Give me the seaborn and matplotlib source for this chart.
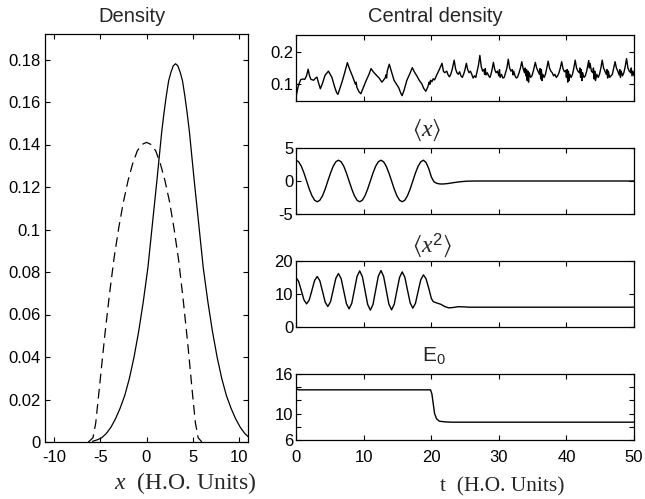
import matplotlib
matplotlib.use("Agg")
import matplotlib.pyplot as plt
import seaborn as sns

# ---------------- data ----------------
# Left panel: density profiles
x_solid = [-5.85, -5.35, -4.85, -4.35, -3.85, -3.35, -2.85, -2.35, -1.85, -1.35,
           -0.85, -0.35, 0.15, 0.65, 1.15, 1.65, 1.9, 2.15, 2.4, 2.65,
           2.9, 3.15, 3.4, 3.65, 3.9, 4.15, 4.4, 4.65, 5.15, 5.65,
           6.15, 6.65, 7.15, 7.65, 8.15, 8.65, 9.15, 9.65, 10.15, 10.65, 11.15]
dens_solid = [0.0003, 0.001, 0.002, 0.004, 0.007, 0.011, 0.016, 0.022, 0.030, 0.040,
              0.052, 0.066, 0.082, 0.103, 0.124, 0.146, 0.155, 0.163, 0.170, 0.174,
              0.177, 0.178, 0.177, 0.174, 0.170, 0.163, 0.155, 0.146, 0.124, 0.103,
              0.082, 0.066, 0.052, 0.040, 0.030, 0.022, 0.016, 0.011, 0.007, 0.004, 0.002]
x_dash = [-6.3, -5.8, -5.5, -5.0, -4.5, -4.0, -3.5, -3.0, -2.5, -2.0,
          -1.5, -1.0, -0.5, 0.0, 0.5, 1.0, 1.5, 2.0, 2.5, 3.0,
          3.5, 4.0, 4.5, 5.0, 5.3, 5.6, 6.0]
dens_dash = [0.0, 0.002, 0.009, 0.030, 0.051, 0.070, 0.087, 0.101, 0.113, 0.123,
             0.131, 0.137, 0.140, 0.141, 0.140, 0.137, 0.131, 0.123, 0.113, 0.100,
             0.085, 0.066, 0.045, 0.022, 0.009, 0.002, 0.0]
left_xticks = [-10, -5, 0, 5, 10]
left_yticks = [0, 0.02, 0.04, 0.06, 0.08, 0.1, 0.12, 0.14, 0.16, 0.18]
left_yticklabels = ["0", "0.02", "0.04", "0.06", "0.08", "0.1", "0.12", "0.14", "0.16", "0.18"]

# Central density vs t
t_cd = [0.0, 0.2, 0.4, 0.7, 1.0, 1.3, 1.55, 1.8, 2.0, 2.2, 2.6, 2.9, 3.1, 3.3, 3.6, 3.9,
        4.3, 4.6, 4.8, 5.0, 5.3, 5.7, 6.0, 6.2, 6.5, 6.8, 7.2, 7.6, 7.9, 8.3, 8.6, 8.8,
        8.9, 9.0, 9.3, 9.6, 10.0, 10.4, 10.8, 11.1, 11.5, 11.9, 12.3, 12.7, 12.9, 13.2,
        13.3, 13.4, 13.5, 13.8, 14.1, 14.5, 14.9, 15.2, 15.5, 15.7, 16.0, 16.4, 16.8,
        17.2, 17.5, 17.9, 18.2, 18.6, 18.9, 19.2, 19.5, 19.7, 19.8, 19.9, 20.1, 20.3,
        20.5, 20.8, 21.2, 21.6,
        21.8, 22.0, 22.3, 22.5, 22.7, 22.9, 23.1, 23.4,
        23.6, 23.8, 24.0, 24.2, 24.4, 24.6, 24.8, 25.0, 25.2,
        25.4, 25.6, 25.8, 26.0, 26.2, 26.4, 26.6, 26.8, 27.0, 27.2,
        27.4, 27.6, 27.8, 27.9, 28.0, 28.1, 28.3, 28.5, 28.7, 28.9, 29.05, 29.2,
        29.4, 29.6, 29.8, 30.0, 30.1, 30.2, 30.4, 30.6, 30.8, 31.0, 31.2, 31.4,
        31.6, 31.8, 32.0, 32.1, 32.2, 32.4, 32.6, 32.8, 33.0, 33.2, 33.4,
        33.6, 33.8, 33.9, 34.0, 34.1, 34.2, 34.3, 34.4, 34.5, 34.7, 34.9, 35.1, 35.4,
        35.6, 35.8, 36.0, 36.1, 36.2, 36.3, 36.4, 36.5, 36.7, 36.9, 37.1, 37.3,
        37.5, 37.7, 37.9, 38.1, 38.3, 38.5, 38.7, 38.9, 39.1, 39.3,
        39.5, 39.7, 39.9, 40.0, 40.1, 40.2, 40.3, 40.4, 40.5, 40.7, 40.9, 41.1, 41.3,
        41.5, 41.7, 41.9, 42.0, 42.1, 42.2, 42.3, 42.4, 42.6, 42.8, 43.0, 43.3,
        43.4, 43.5, 43.7, 43.9, 44.0, 44.1, 44.2, 44.3, 44.5, 44.7, 44.9, 45.1, 45.3,
        45.5, 45.7, 45.9, 46.0, 46.1, 46.2, 46.4, 46.6, 46.8, 47.0, 47.2,
        47.4, 47.6, 47.8, 47.9, 48.0, 48.1, 48.3, 48.5, 48.7, 48.9,
        49.1, 49.3, 49.5, 49.6, 49.7, 49.85, 50.0]
central_density = [0.057, 0.080, 0.097, 0.113, 0.115, 0.114, 0.125, 0.146, 0.125, 0.114, 0.111, 0.118, 0.121, 0.105, 0.084, 0.100,
                   0.127, 0.135, 0.140, 0.132, 0.121, 0.091, 0.072, 0.066, 0.085, 0.105, 0.135, 0.167, 0.148, 0.127, 0.110, 0.098,
                   0.105, 0.089, 0.075, 0.068, 0.090, 0.111, 0.130, 0.148, 0.136, 0.127, 0.118, 0.105, 0.110, 0.119,
                   0.128, 0.118, 0.140, 0.162, 0.140, 0.111, 0.097, 0.087, 0.070, 0.062, 0.080, 0.111, 0.130,
                   0.151, 0.138, 0.124, 0.112, 0.100, 0.085, 0.076, 0.090, 0.105, 0.098, 0.111, 0.106, 0.116,
                   0.112, 0.127, 0.145, 0.165,
                   0.140, 0.135, 0.140, 0.128, 0.122, 0.130, 0.145, 0.175,
                   0.148, 0.135, 0.130, 0.138, 0.125, 0.120, 0.130, 0.145, 0.165,
                   0.145, 0.135, 0.140, 0.130, 0.118, 0.125, 0.120, 0.140, 0.160, 0.190,
                   0.155, 0.140, 0.145, 0.130, 0.148, 0.128, 0.135, 0.125, 0.120, 0.135, 0.150, 0.168,
                   0.145, 0.135, 0.140, 0.125, 0.145, 0.120, 0.130, 0.118, 0.120, 0.135, 0.150, 0.178,
                   0.150, 0.140, 0.145, 0.128, 0.140, 0.125, 0.118, 0.122, 0.135, 0.150, 0.170,
                   0.148, 0.135, 0.150, 0.125, 0.145, 0.110, 0.140, 0.105, 0.135, 0.120, 0.125, 0.140, 0.168,
                   0.150, 0.140, 0.130, 0.148, 0.115, 0.145, 0.110, 0.130, 0.120, 0.130, 0.150, 0.172,
                   0.150, 0.140, 0.135, 0.125, 0.130, 0.120, 0.125, 0.135, 0.150, 0.170,
                   0.148, 0.138, 0.142, 0.120, 0.145, 0.105, 0.140, 0.110, 0.130, 0.120, 0.130, 0.150, 0.175,
                   0.150, 0.140, 0.135, 0.150, 0.120, 0.145, 0.110, 0.135, 0.120, 0.125, 0.140, 0.174,
                   0.150, 0.165, 0.140, 0.135, 0.150, 0.115, 0.140, 0.110, 0.130, 0.120, 0.130, 0.150, 0.175,
                   0.150, 0.140, 0.130, 0.145, 0.118, 0.140, 0.120, 0.125, 0.130, 0.150, 0.170,
                   0.150, 0.140, 0.128, 0.145, 0.120, 0.140, 0.125, 0.135, 0.155, 0.180,
                   0.150, 0.140, 0.135, 0.150, 0.125, 0.140, 0.125]

# <x> vs t
t_x = [0.00, 0.39, 0.79, 1.18, 1.57, 1.96, 2.36, 2.75, 3.14, 3.53, 3.93, 4.32, 4.71, 5.11, 5.50, 5.89,
       6.28, 6.68, 7.07, 7.46, 7.85, 8.25, 8.64, 9.03, 9.42, 9.82, 10.21, 10.60, 11.00, 11.39, 11.78, 12.17,
       12.57, 12.96, 13.35, 13.74, 14.14, 14.53, 14.92, 15.32, 15.71, 16.10, 16.49, 16.89, 17.28, 17.67, 18.06, 18.46,
       18.85, 19.24, 19.63, 20.03, 20.4, 20.8, 21.3, 21.8, 22.5, 23.3, 24.2, 25.2, 26.5, 50.0]
x_mean = [3.15, 2.91, 2.23, 1.21, 0.0, -1.21, -2.23, -2.91, -3.15, -2.91, -2.23, -1.21, 0.0, 1.21, 2.23, 2.91,
          3.15, 2.91, 2.23, 1.21, 0.0, -1.21, -2.23, -2.91, -3.15, -2.91, -2.23, -1.21, 0.0, 1.21, 2.23, 2.91,
          3.15, 2.91, 2.23, 1.21, 0.0, -1.21, -2.23, -2.91, -3.15, -2.91, -2.23, -1.21, 0.0, 1.21, 2.23, 2.91,
          3.15, 2.80, 1.90, 0.60, -0.10, -0.35, -0.45, -0.45, -0.38, -0.25, -0.12, -0.03, 0.0, 0.0]

# <x^2> vs t
t_x2 = [0.00, 0.39, 0.79, 1.18, 1.57, 1.96, 2.36, 2.75, 3.14, 3.53, 3.93, 4.32, 4.71, 5.11, 5.50, 5.89,
        6.28, 6.68, 7.07, 7.46, 7.85, 8.25, 8.64, 9.03, 9.42, 9.82, 10.21, 10.60, 11.00, 11.39, 11.78, 12.17,
        12.57, 12.96, 13.35, 13.74, 14.14, 14.53, 14.92, 15.32, 15.71, 16.10, 16.49, 16.89, 17.28, 17.67, 18.06, 18.46,
        18.85, 19.24, 19.63, 20.03, 20.3, 20.8, 21.4, 22.0, 22.6, 23.2, 24.0, 24.8, 25.6, 50.0]
x2_mean = [15.0, 13.8, 11.0, 8.2, 7.0, 8.2, 11.15, 14.1, 15.3, 14.0, 10.75, 7.5, 6.2, 7.66, 11.2, 14.74,
           16.2, 14.64, 10.85, 7.06, 5.5, 7.18, 11.25, 15.32, 17.0, 15.26, 11.05, 6.84, 5.1, 6.85, 11.1, 15.35,
           17.1, 15.36, 11.15, 6.94, 5.2, 6.88, 10.95, 15.02, 16.7, 15.09, 11.2, 7.31, 5.7, 7.17, 10.75, 14.33,
           15.8, 14.6, 11.8, 8.6, 7.7, 7.3, 6.9, 6.2, 5.8, 5.9, 6.15, 6.1, 6.0, 6.0]

# E0 vs t
t_e0 = [0.0, 0.15, 0.4, 19.9, 20.1, 20.3, 20.5, 20.8, 21.2, 22.0, 23.0, 50.0]
e0 = [14.0, 13.7, 13.6, 13.6, 13.0, 11.5, 10.0, 9.2, 8.85, 8.75, 8.7, 8.7]

t_ticks = [0, 10, 20, 30, 40, 50]

# ---------------- style ----------------
sns.set_style("ticks")
plt.rcParams.update({
    "font.family": ["Liberation Sans", "DejaVu Sans"],
    "mathtext.fontset": "custom",
    "mathtext.rm": "Liberation Sans",
    "mathtext.it": "Liberation Serif:italic",
    "mathtext.bf": "Liberation Sans:bold",
    "mathtext.fallback": "stix",
    "axes.unicode_minus": False,
    "axes.edgecolor": "black",
    "axes.linewidth": 0.9,
    "xtick.direction": "in",
    "ytick.direction": "in",
    "xtick.major.size": 3.5,
    "ytick.major.size": 3.5,
    "xtick.major.width": 0.8,
    "ytick.major.width": 0.8,
    "xtick.color": "black",
    "ytick.color": "black",
    "lines.scale_dashes": False,
})

W, H = 645, 499
fig = plt.figure(figsize=(W / 100, H / 100), dpi=100)

def px_axes(left, top, right, bottom):
    return fig.add_axes([left / W, 1 - bottom / H, (right - left) / W, (bottom - top) / H])

TICK_FS = 12

# ---- left panel ----
axL = px_axes(45, 34, 248, 442)
sns.lineplot(x=x_solid, y=dens_solid, ax=axL, color="black", lw=0.9, estimator=None, sort=False)
ln = sns.lineplot(x=x_dash, y=dens_dash, ax=axL, color="black", lw=0.9, estimator=None, sort=False).lines[-1]
ln.set_linestyle((0, (7, 4)))
axL.set_xlim(-11, 11)
axL.set_ylim(0, 0.192)
axL.set_xticks(left_xticks)
axL.set_xticklabels([str(v) for v in left_xticks], fontsize=TICK_FS)
axL.set_yticks(left_yticks)
axL.set_yticklabels(left_yticklabels, fontsize=TICK_FS)
axL.tick_params(axis="y", top=True, right=True, pad=3)
axL.tick_params(axis="x", top=True, right=True, pad=6)
axL.set_xlabel("")
axL.set_ylabel("")

# ---- right panels ----
tops = [35, 148, 261, 374]
right_series = [
    (t_cd, central_density, (0.045, 0.255), [0.1, 0.2], ["0.1", "0.2"]),
    (t_x, x_mean, (-5, 5), [-5, 0, 5], ["-5", "0", "5"]),
    (t_x2, x2_mean, (0, 20), [0, 10, 20], ["0", "10", "20"]),
    (t_e0, e0, (6, 16), [6, 8, 10, 12, 14, 16], ["6", "", "10", "", "", "16"]),
]
for i, (tt, vv, ylim, yt, ytl) in enumerate(right_series):
    ax = px_axes(296, tops[i], 634, tops[i] + 66)
    sns.lineplot(x=tt, y=vv, ax=ax, color="black", lw=1.0, estimator=None, sort=False)
    ax.set_xlim(0, 50)
    ax.set_ylim(*ylim)
    ax.set_yticks(yt)
    ax.set_yticklabels(ytl, fontsize=TICK_FS)
    ax.set_xticks(t_ticks)
    if i == 3:
        ax.set_xticklabels([str(v) for v in t_ticks], fontsize=TICK_FS)
    else:
        ax.set_xticklabels([])
    ax.tick_params(axis="y", top=True, right=True, pad=2)
    ax.tick_params(axis="x", top=True, right=True, pad=7)
    ax.set_xlabel("")
    ax.set_ylabel("")

# ---- titles and labels ----
def ftext(x, y, s, **kw):
    fig.text(x / W, 1 - y / H, s, ha="center", va="center", **kw)

ftext(132, 17, "Density", fontsize=14.5)
ftext(435, 16, "Central density", fontsize=14.5)
ftext(427, 130, r"$\langle x\rangle$", fontsize=17)
ftext(432, 246, r"$\langle x^{2}\rangle$", fontsize=17)
ftext(434, 355, r"E$_0$", fontsize=15)
ftext(185, 483, r"$x$  (H.O. Units)", fontsize=17, family=["Liberation Serif", "DejaVu Serif"])
ftext(502, 487, "t  (H.O. Units)", fontsize=15.5, family=["Liberation Serif", "DejaVu Serif"])

fig.savefig("out.png", dpi=100)
